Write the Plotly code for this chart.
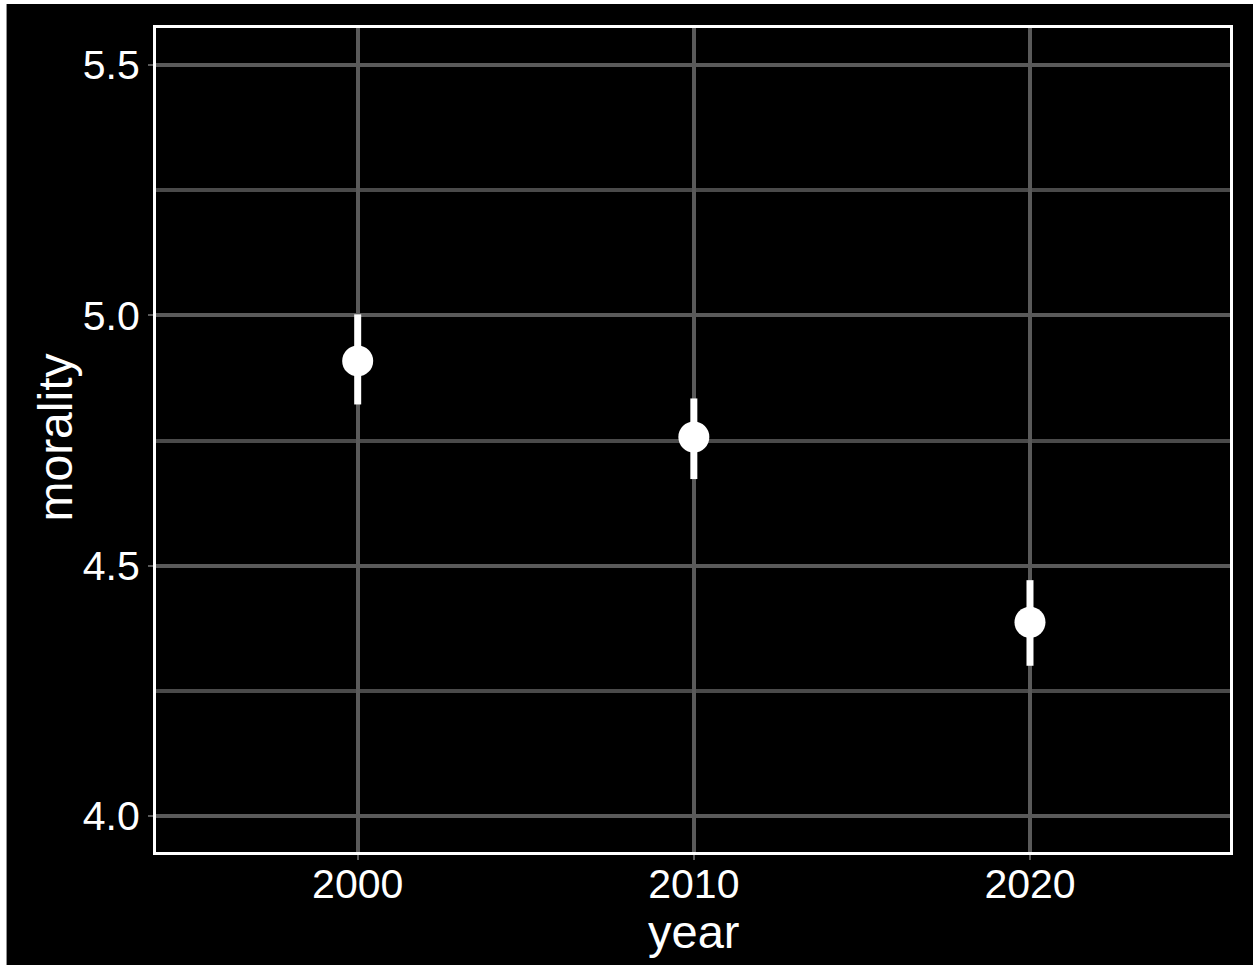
import plotly.graph_objects as go

# Survey wave years and mean morality score with 95% interval bounds
years = [2000, 2010, 2020]
morality_mean = [4.909, 4.757, 4.387]
morality_low = [4.822, 4.673, 4.300]
morality_high = [5.002, 4.834, 4.471]

y_ticks = [4.0, 4.5, 5.0, 5.5]
y_tick_labels = ["4.0", "4.5", "5.0", "5.5"]
x_ticks = [2000, 2010, 2020]
x_tick_labels = ["2000", "2010", "2020"]

err_plus = [h - m for h, m in zip(morality_high, morality_mean)]
err_minus = [m - l for m, l in zip(morality_mean, morality_low)]

FONT = "Liberation Sans, Arial, Helvetica, sans-serif"
GRID = "#5a5a5a"

fig = go.Figure()
fig.add_trace(go.Scatter(
    x=years,
    y=morality_mean,
    mode="markers",
    marker=dict(color="white", size=31, line=dict(width=0)),
    error_y=dict(
        type="data",
        symmetric=False,
        array=err_plus,
        arrayminus=err_minus,
        color="white",
        thickness=7,
        width=0,
    ),
    showlegend=False,
))

W, H = 1253, 965
L, R, T, B = 155.5, 23, 28, 113
pw, ph = W - L - R, H - T - B


def px_x(p):
    return (p - L) / pw


def px_y(p):
    return (H - B - p) / ph


# Black canvas, inset slightly from the top-left corner of the white page
fig.add_shape(
    type="rect", xref="paper", yref="paper", layer="below",
    x0=px_x(6), x1=px_x(W + 5),
    y0=px_y(H + 5), y1=px_y(4),
    fillcolor="black", line=dict(width=0),
)

# Axis titles
fig.add_annotation(
    text="year", xref="paper", yref="paper",
    x=0.5, y=px_y(931), xanchor="center", yanchor="middle",
    showarrow=False, font=dict(size=47, color="white", family=FONT),
)
fig.add_annotation(
    text="morality", xref="paper", yref="paper", textangle=-90,
    x=px_x(54), y=px_y(438), xanchor="center", yanchor="middle",
    showarrow=False, font=dict(size=48, color="white", family=FONT),
)

fig.update_layout(
    width=W,
    height=H,
    margin=dict(l=L, r=R, t=T, b=B, pad=0),
    paper_bgcolor="white",
    plot_bgcolor="black",
    font=dict(family=FONT, color="white"),
    xaxis=dict(
        range=[1994.0, 2025.95],
        tickvals=x_ticks,
        ticktext=x_tick_labels,
        tickfont=dict(size=41, color="white", family=FONT),
        ticklabelstandoff=-11,
        ticks="outside",
        ticklen=5,
        tickwidth=2,
        tickcolor=GRID,
        showgrid=True,
        gridcolor=GRID,
        gridwidth=4,
        zeroline=False,
        showline=True,
        linecolor="white",
        linewidth=3,
        mirror=True,
        automargin=False,
    ),
    yaxis=dict(
        range=[3.928, 5.574],
        tickvals=y_ticks,
        ticktext=y_tick_labels,
        tickfont=dict(size=41, color="white", family=FONT),
        ticks="outside",
        ticklen=5,
        tickwidth=2,
        tickcolor=GRID,
        showgrid=True,
        gridcolor=GRID,
        gridwidth=4,
        minor=dict(dtick=0.25, tick0=4.0, showgrid=True, gridcolor="#4a4a4a", gridwidth=4, ticks=""),
        zeroline=False,
        showline=True,
        linecolor="white",
        linewidth=3,
        mirror=True,
        automargin=False,
    ),
)

fig.write_html("out.html")
